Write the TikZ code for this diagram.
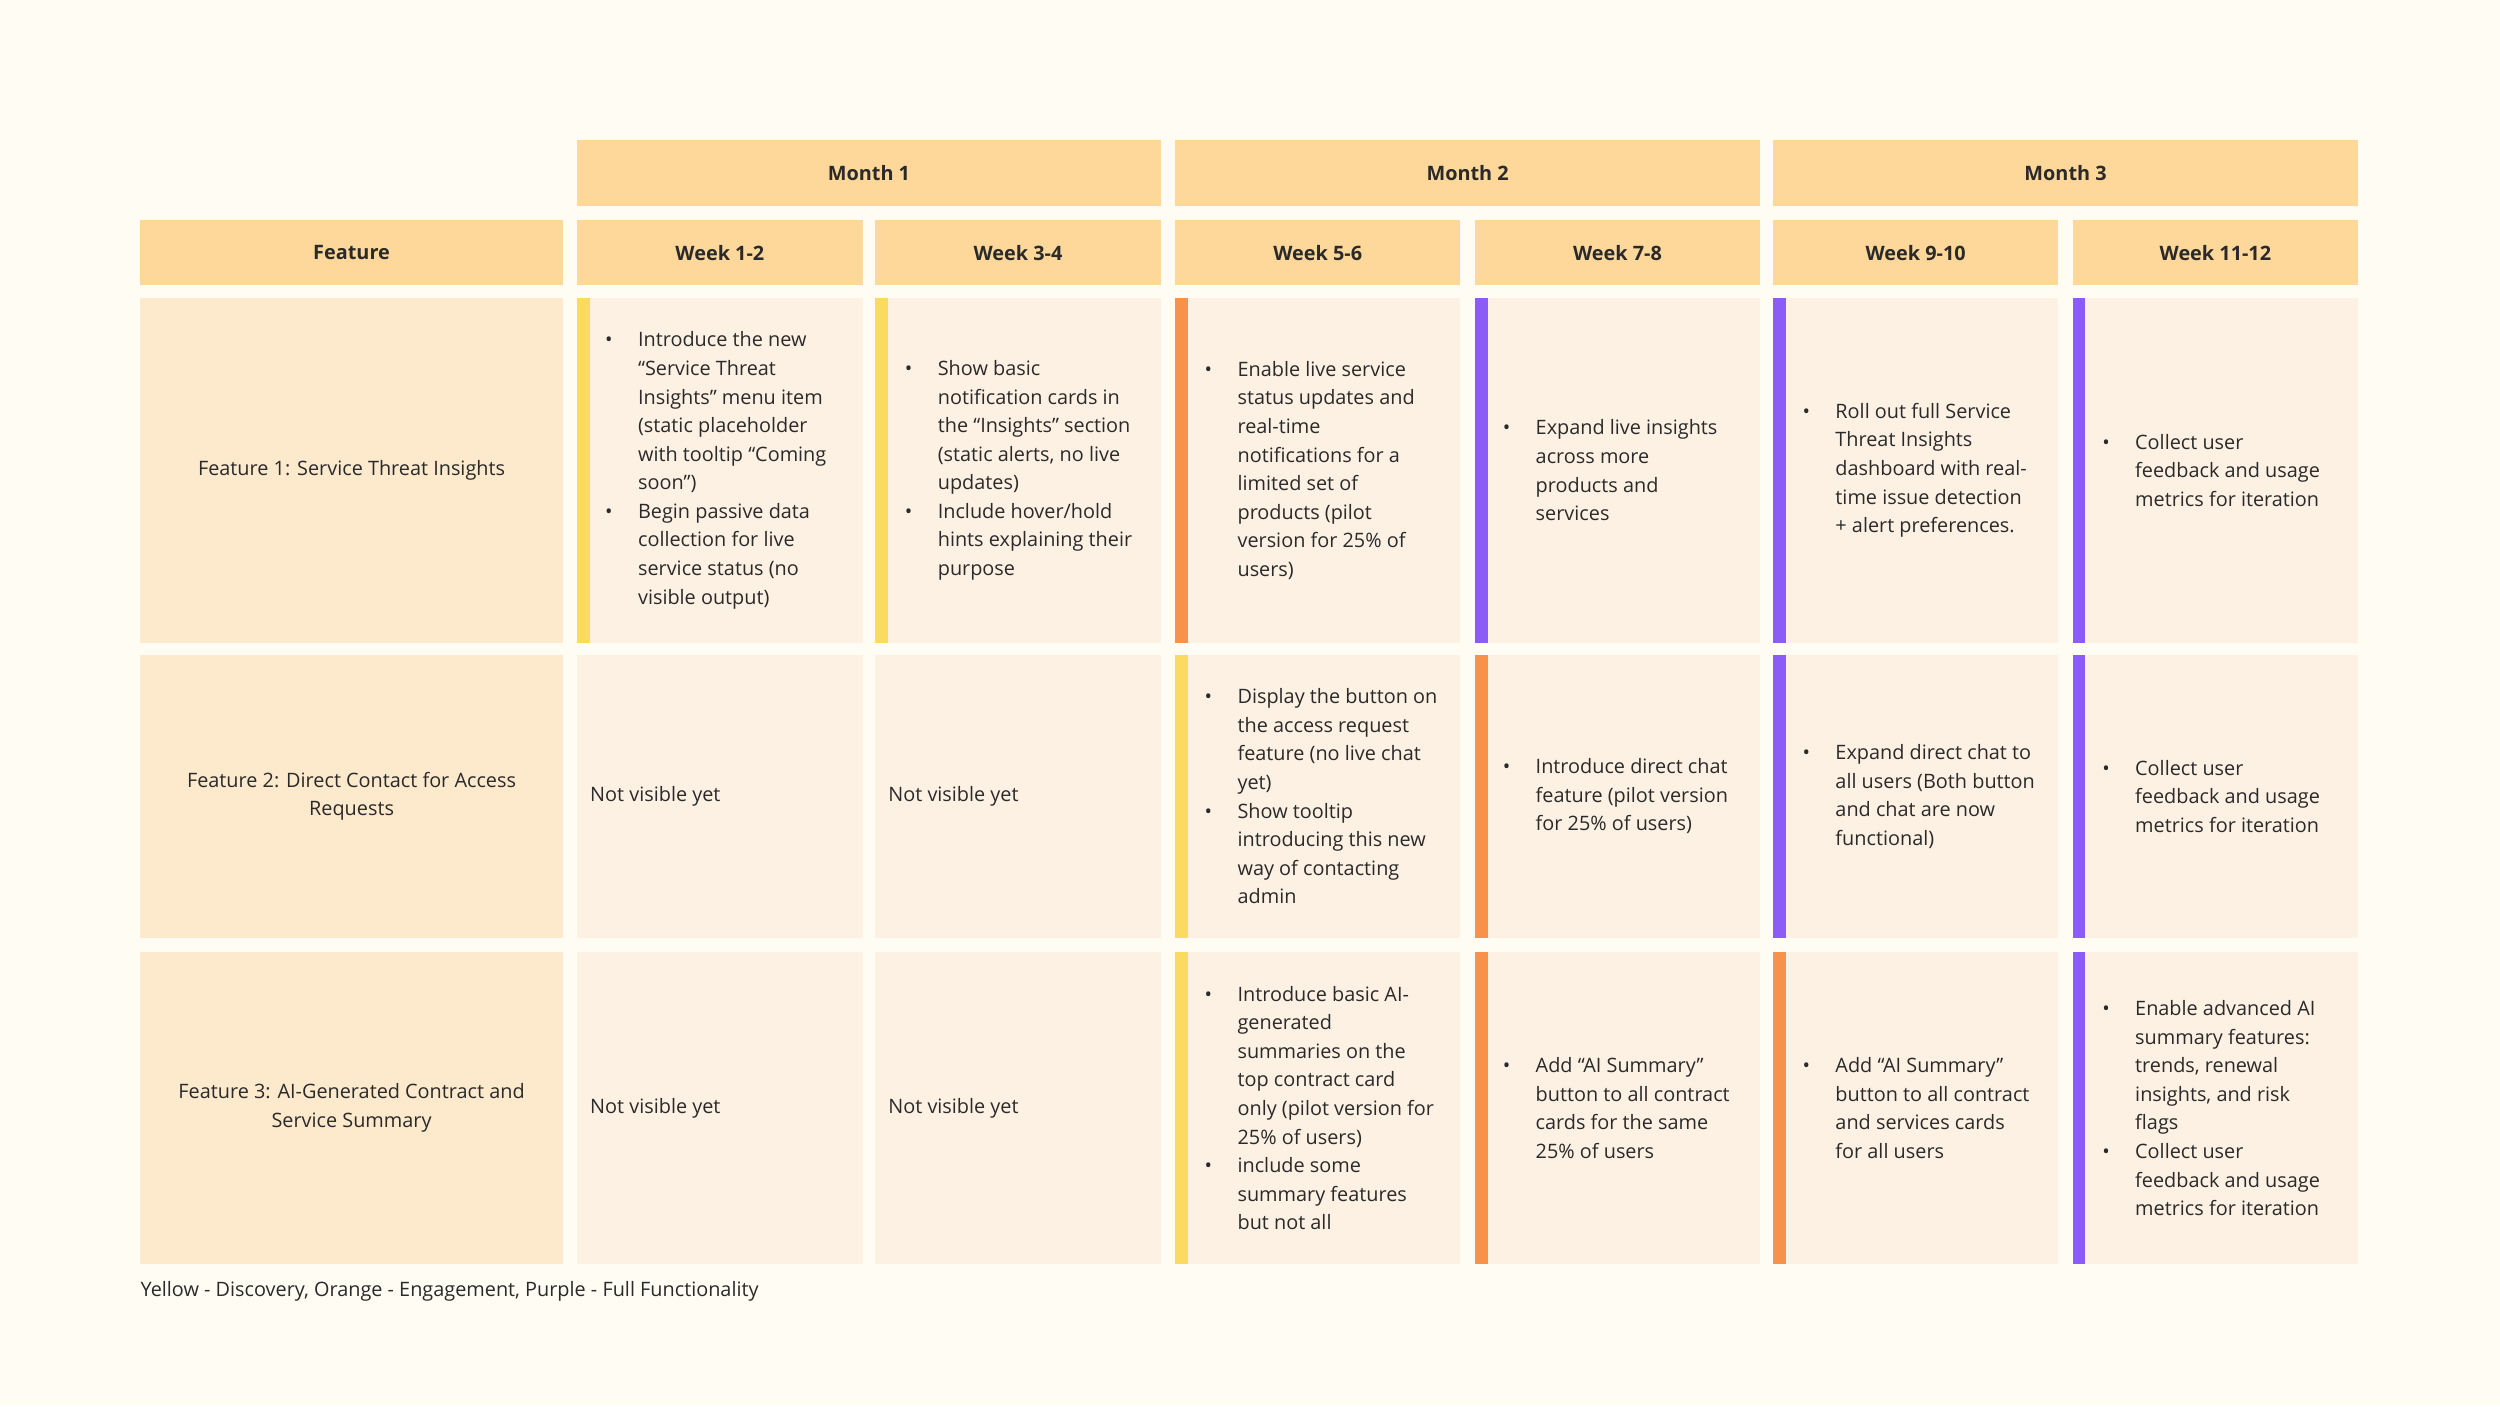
\documentclass[tikz,border=0pt]{standalone}
\usepackage{fontspec}
\setmainfont{Open Sans}
\definecolor{bg}{HTML}{FFFDF3}
\definecolor{hdr}{HTML}{FDD89A}
\definecolor{fcell}{HTML}{FDE9CC}
\definecolor{wcell}{HTML}{FDF1E3}
\definecolor{cy}{HTML}{FADB5F}
\definecolor{co}{HTML}{F8924A}
\definecolor{cp}{HTML}{8B5CF6}
\definecolor{txt}{HTML}{2A2A2A}
\tikzset{
 hd/.style={font=\fontsize{12.5}{15}\selectfont\bfseries, text=txt},
 tx/.style={font=\fontsize{12.5}{18}\selectfont, text=txt, align=left, anchor=west, inner sep=0},
 fx/.style={font=\fontsize{12.5}{18}\selectfont, text=txt, align=center},
}
\newcommand{\bu}{\llap{\textbullet\hspace{16bp}}}
\begin{document}
\begin{tikzpicture}[x={(1bp,0)},y={(0,-1bp)}]
\fill[bg] (0,0) rectangle (1568,882);
\useasboundingbox (0,0) rectangle (1568,882);
% month headers
\fill[hdr] (362,88) rectangle (728,129); \node[hd] (m1) at (545,108.5) {Month 1};
\fill[hdr] (737,88) rectangle (1104,129); \node[hd] (m2) at (920.5,108.5) {Month 2};
\fill[hdr] (1112,88) rectangle (1479,129); \node[hd] (m3) at (1295.5,108.5) {Month 3};
% week headers
\fill[hdr] (88,138) rectangle (353,179); \node[hd] (fh) at (220.5,158.5) {Feature};
\foreach \a/\b/\t [count=\i] in {362/541/Week 1-2,549/728/Week 3-4,737/916/Week 5-6,925/1104/Week 7-8,1112/1291/Week 9-10,1300/1479/Week 11-12}{
 \fill[hdr] (\a,138) rectangle (\b,179);
 \node[hd] (w\i) at ({(\a+\b)/2},158.5) {\t};
}
% rows
\foreach \t/\bt [count=\r] in {187/403,411/588,597/793}{
 \fill[fcell] (88,\t) rectangle (353,\bt);
 \foreach \a/\b in {362/541,549/728,737/916,925/1104,1112/1291,1300/1479}{
  \fill[wcell] (\a,\t) rectangle (\b,\bt);
 }
}
\node[fx] (f1) at (220.5,295) {Feature 1: Service Threat Insights};
\node[fx] (f2) at (220.5,499.5) {Feature 2: Direct Contact for Access\\Requests};
\node[fx] (f3) at (220.5,695) {Feature 3: AI-Generated Contract and\\Service Summary};
% bars
\fill[cy] (362,187) rectangle (370,403);
\fill[cy] (549,187) rectangle (557,403);
\fill[co] (737,187) rectangle (745,403);
\fill[cp] (925,187) rectangle (933,403);
\fill[cp] (1112,187) rectangle (1120,403);
\fill[cp] (1300,187) rectangle (1308,403);
\fill[cy] (737,411) rectangle (745,588);
\fill[co] (925,411) rectangle (933,588);
\fill[cp] (1112,411) rectangle (1120,588);
\fill[cp] (1300,411) rectangle (1308,588);
\fill[cy] (737,597) rectangle (745,793);
\fill[co] (925,597) rectangle (933,793);
\fill[co] (1112,597) rectangle (1120,793);
\fill[cp] (1300,597) rectangle (1308,793);
% row 1 texts
\node[tx] (c11) at (400,295) {\bu Introduce the new\\“Service Threat\\Insights” menu item\\(static placeholder\\with tooltip “Coming\\soon”)\\\bu Begin passive data\\collection for live\\service status (no\\visible output)};
\node[tx] (c12) at (588,295) {\bu Show basic\\notification cards in\\the “Insights” section\\(static alerts, no live\\updates)\\\bu Include hover/hold\\hints explaining their\\purpose};
\node[tx] (c13) at (776,295) {\bu Enable live service\\status updates and\\real-time\\notifications for a\\limited set of\\products (pilot\\version for 25\% of\\users)};
\node[tx] (c14) at (963,295) {\bu Expand live insights\\across more\\products and\\services};
\node[tx] (c15) at (1151,295) {\bu Roll out full Service\\Threat Insights\\dashboard with real-\\time issue detection\\+ alert preferences.};
\node[tx] (c16) at (1339,295) {\bu Collect user\\feedback and usage\\metrics for iteration};
% row 2
\node[tx] (c21) at (370,499.5) {Not visible yet};
\node[tx] (c22) at (557,499.5) {Not visible yet};
\node[tx] (c23) at (776,499.5) {\bu Display the button on\\the access request\\feature (no live chat\\yet)\\\bu Show tooltip\\introducing this new\\way of contacting\\admin};
\node[tx] (c24) at (963,499.5) {\bu Introduce direct chat\\feature (pilot version\\for 25\% of users)};
\node[tx] (c25) at (1151,499.5) {\bu Expand direct chat to\\all users (Both button\\and chat are now\\functional)};
\node[tx] (c26) at (1339,499.5) {\bu Collect user\\feedback and usage\\metrics for iteration};
% row 3
\node[tx] (c31) at (370,695) {Not visible yet};
\node[tx] (c32) at (557,695) {Not visible yet};
\node[tx] (c33) at (776,695) {\bu Introduce basic AI-\\generated\\summaries on the\\top contract card\\only (pilot version for\\25\% of users)\\\bu include some\\summary features\\but not all};
\node[tx] (c34) at (963,695) {\bu Add “AI Summary”\\button to all contract\\cards for the same\\25\% of users};
\node[tx] (c35) at (1151,695) {\bu Add “AI Summary”\\button to all contract\\and services cards\\for all users};
\node[tx] (c36) at (1339,695) {\bu Enable advanced AI\\summary features:\\trends, renewal\\insights, and risk\\flags\\\bu Collect user\\feedback and usage\\metrics for iteration};
\node[tx] (leg) at (88,810) {Yellow - Discovery, Orange - Engagement, Purple - Full Functionality};
\end{tikzpicture}
\end{document}
